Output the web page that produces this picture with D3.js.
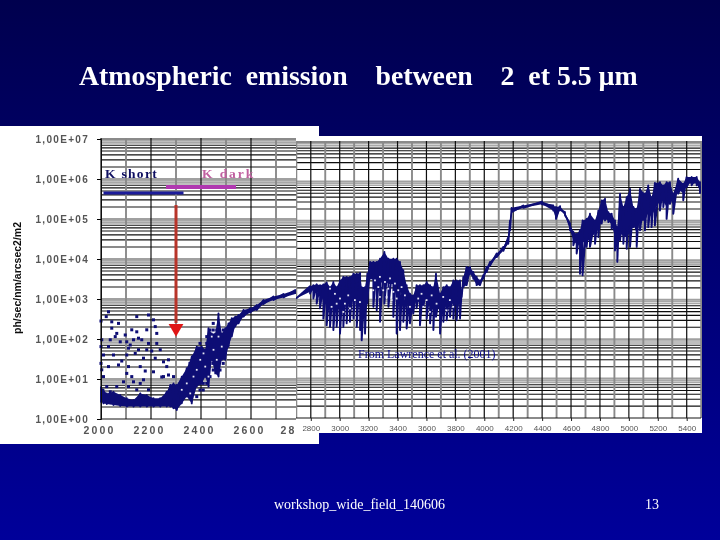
<!DOCTYPE html>
<html><head><meta charset="utf-8">
<style>html,body{margin:0;padding:0;background:#000070}svg{display:block}text{white-space:pre}</style>
<script src="https://cdn.jsdelivr.net/npm/d3@7/dist/d3.min.js"></script></head>
<body><svg id="c" width="720" height="540"></svg>
<script>
const titleText = "Atmospheric  emission    between    2  et 5.5 µm";
const footerText = "workshop_wide_field_140606";
const pageNumber = "13";
const creditText = "From Lawrence et al. (2001)";
const yAxisTitle = "ph/sec/nm/arcsec2/m2";
const yTickValues = [1,1e1,1e2,1e3,1e4,1e5,1e6,1e7];
const yTickLabels = ["1,00E+00","1,00E+01","1,00E+02","1,00E+03","1,00E+04","1,00E+05","1,00E+06","1,00E+07"];
const leftTicks = [2000,2200,2400,2600,2800];
const leftTickLabels = ["2000","2200","2400","2600","28"];
const rightTicks = [2800,3000,3200,3400,3600,3800,4000,4200,4400,4600,4800,5000,5200,5400];
const kShortBand = [2010,2330];
const kDarkBand = [2260,2540];

// short-wavelength part: wavelength (nm), upper and lower envelope in log10(flux)
const leftWave = [2000,2010,2023,2050,2077,2103,2130,2157,2183,2210,2237,2263,2277,2290,2303,2323,2343,2363,2383,2403,2417,2430,2443,2457,2470,2483,2497,2510,2523,2537,2550,2570,2597,2623,2650,2690,2730,2777];
const leftHi = [0.81,0.73,0.64,0.68,0.60,0.52,0.475,0.64,0.60,0.52,0.52,0.68,0.85,0.89,0.85,1.06,1.27,1.56,1.81,1.81,1.73,2.27,2.14,2.14,2.64,2.14,2.27,2.39,2.52,2.56,2.60,2.725,2.77,2.85,2.975,3.06,3.125,3.225];
const leftLo = [0.43,0.39,0.375,0.35,0.325,0.31,0.31,0.31,0.31,0.31,0.31,0.31,0.31,0.27,0.225,0.39,0.56,0.39,0.81,0.89,1.06,0.81,1.48,1.14,1.06,1.48,1.48,1.81,2.06,2.31,2.39,2.56,2.66,2.725,2.875,2.975,3.04,3.125];
// isolated dots above the floor of the short-wavelength part
const dotWave = [2030,2021,2000,2043,2070,2143,2190,2210,2217,2043,2063,2123,2143,2097,2183,2223,2003,2037,2057,2077,2103,2130,2163,2190,2223,2000,2030,2110,2150,2183,2237,2010,2050,2103,2137,2170,2217,2250,2270,2000,2030,2070,2110,2157,2210,2263,2003,2103,2123,2170,2270,2290,2010,2090,2130,2157,2250,2023,2063,2110,2143,2190,2037,2117,2150,2203,2243,2083,2177];
const dotLog = [2.68,2.56,2.45,2.43,2.39,2.56,2.60,2.48,2.31,2.27,2.14,2.23,2.18,2.10,2.23,2.14,1.98,1.98,2.06,1.93,1.93,1.98,1.98,1.89,1.89,1.81,1.81,1.77,1.73,1.73,1.73,1.60,1.60,1.60,1.64,1.52,1.52,1.43,1.48,1.39,1.31,1.35,1.31,1.31,1.18,1.31,1.23,1.14,1.06,0.98,1.10,1.06,1.06,0.93,0.93,0.89,1.06,0.81,0.81,0.81,0.73,0.73,0.68,1.85,2.02,1.70,1.05,1.45,1.20];
// dots of the scattered rise between 2340 and 2490 nm
const riseWave = [2343,2343,2356,2356,2356,2356,2369,2369,2369,2369,2369,2369,2383,2383,2383,2383,2383,2383,2383,2396,2396,2396,2396,2396,2396,2396,2396,2409,2409,2409,2409,2409,2409,2409,2423,2423,2423,2423,2423,2423,2423,2423,2436,2436,2436,2436,2436,2436,2436,2449,2449,2449,2449,2449,2449,2449,2449,2463,2463,2463,2463,2463,2463,2476,2476,2476,2476,2476,2489,2489,2489,2489,2489,2489];
const riseLog = [1.06,0.89,1.39,1.225,1.06,0.89,1.56,1.39,1.225,1.06,0.89,0.725,1.725,1.56,1.39,1.225,1.06,0.89,0.56,1.89,1.725,1.56,1.39,1.225,1.06,0.89,0.725,1.725,1.56,1.39,1.225,1.06,0.89,0.725,2.06,1.89,1.725,1.56,1.39,1.225,1.06,0.89,2.225,2.06,1.89,1.725,1.56,1.39,1.06,2.39,2.225,2.06,1.89,1.725,1.56,1.39,1.225,2.225,2.06,1.89,1.725,1.56,1.39,2.06,1.89,1.725,1.56,1.225,2.225,2.06,1.89,1.725,1.56,1.39];
// gaps in the dense part of the short-wavelength rise
const leftGapWave = [2343,2370,2397,2383,2417,2450,2463,2483,2430,2410,2443,2470,2357,2323];
const leftGapLog = [0.89,1.06,1.48,1.23,1.31,1.73,1.48,1.81,1.06,1.64,2.06,2.06,0.64,0.73];

// long-wavelength part
const rightWave = [2698,2795,2818,2841,2864,2887,2910,2933,2956,2979,3002,3025,3048,3071,3095,3118,3141,3152,3175,3191,3210,3233,3256,3279,3309,3337,3371,3394,3417,3440,3463,3486,3509,3532,3555,3579,3602,3625,3648,3666,3694,3717,3740,3763,3786,3809,3832,3844,3855,3878,3901,3924,3947,3970,3993,4016,4040,4086,4132,4166,4178,4189,4270,4399,4477,4496,4524,4558,4593,4616,4639,4662,4680,4708,4731,4766,4789,4812,4835,4858,4881,4904,4920,4939,4962,4985,5008,5031,5054,5077,5111,5134,5157,5180,5215,5238,5261,5284,5307,5341,5376,5399,5434,5469,5492];
const rightHi = [3.03,3.34,3.37,3.39,3.37,3.39,3.44,3.32,3.45,3.32,3.49,3.58,3.58,3.58,3.66,3.66,3.68,3.32,3.32,3.66,3.96,3.96,3.96,4.04,4.21,4.04,4.04,4.04,3.96,3.75,3.37,3.155,3.11,3.37,3.37,3.37,3.45,3.37,3.32,3.66,3.155,3.32,3.37,3.32,3.49,3.49,3.49,3.24,3.58,3.83,3.83,3.70,3.58,3.49,3.62,3.83,3.96,4.17,4.34,4.59,5.01,5.33,5.39,5.49,5.39,5.35,5.37,5.22,4.93,4.72,4.67,4.76,5.01,5.05,5.18,5.01,5.26,5.52,5.56,5.22,5.18,5.01,4.84,5.69,5.35,5.60,5.81,5.35,5.31,5.81,5.69,5.90,5.60,5.96,5.98,5.90,5.98,5.98,5.69,6.07,5.94,6.11,6.11,6.11,5.98];
const rightLo = [3.03,3.155,3.03,2.90,2.78,2.52,2.35,2.31,2.23,2.31,2.14,2.31,2.40,2.44,2.52,2.31,2.23,1.97,2.14,2.90,3.53,2.82,2.73,2.44,2.90,2.82,2.565,2.14,2.23,2.44,2.27,2.40,2.65,2.78,2.35,2.82,2.52,2.40,2.23,2.565,2.14,2.44,2.48,2.565,2.52,2.48,2.52,3.07,3.32,3.37,3.66,3.53,3.37,3.37,3.53,3.70,3.87,4.08,4.24,4.42,4.76,5.22,5.33,5.42,5.26,5.05,5.28,5.14,4.76,4.38,4.17,3.66,3.62,4.34,4.34,4.42,4.59,4.93,5.01,4.97,4.80,4.25,3.96,4.505,4.42,4.29,4.34,4.84,4.34,4.76,4.76,4.84,4.84,4.885,5.26,5.35,5.05,5.43,5.18,5.69,5.52,5.86,5.90,5.90,5.69];
// lower edge of the solid core of the band
const rightCore = [3.03,3.2,3.25,3.2,3.1,3.0,2.9,2.8,2.85,2.85,2.8,2.9,3.0,3.1,3.1,2.9,2.8,2.7,2.6,3.0,3.53,3.5,3.4,3.4,3.5,3.4,3.4,3.4,3.2,3.1,2.9,2.7,2.8,3.0,2.9,3.0,3.0,2.9,2.8,2.9,2.7,2.9,2.9,2.9,2.9,2.85,2.9,3.07,3.32,3.37,3.66,3.53,3.37,3.37,3.53,3.70,3.87,4.08,4.24,4.42,4.76,5.22,5.33,5.42,5.26,5.05,5.28,5.14,4.76,4.5,4.4,4.4,4.45,4.5,4.5,4.7,4.8,5.0,5.05,5.0,4.9,4.6,4.4,4.7,4.6,4.6,4.7,4.9,4.7,5.0,5.0,5.2,5.1,5.3,5.5,5.5,5.35,5.6,5.4,5.8,5.7,5.95,5.95,5.95,5.75];
// gaps in the dense part of the long-wavelength band
const rightGapWave = [3244,3278,3313,3348,3382,3267,3301,3336,3371,3405,3428,3232,3324,3359,3394,3278,3451,2933,2967,3002,3036,3071,3105,3059,2979,3025,2944,3140,3566,3601,3636,3670,3716,3762,3578,3624,3739,3785,3543,3486];
const rightGapLog = [3.49,3.58,3.45,3.54,3.41,3.32,3.24,3.28,3.20,3.24,3.32,3.24,3.07,2.99,3.03,3.07,3.11,3.28,3.15,3.03,2.90,2.78,2.99,3.11,2.90,2.69,2.82,2.94,3.15,2.99,3.11,2.90,3.07,2.99,2.82,2.69,2.73,2.82,3.03,2.82];

const svg = d3.select("#c");
const defs = svg.append("defs");
const grad = defs.append("linearGradient").attr("id","bg").attr("x1",0).attr("x2",0).attr("y1",0).attr("y2",1);
grad.append("stop").attr("offset",0).attr("stop-color","#00004e");
grad.append("stop").attr("offset",1).attr("stop-color","#00009a");
defs.append("filter").attr("id","soft").append("feGaussianBlur").attr("stdDeviation",0.35);
defs.append("clipPath").attr("id","clipL").append("rect").attr("x",0).attr("y",126).attr("width",296).attr("height",318);
defs.append("clipPath").attr("id","clipR").append("rect").attr("x",296).attr("y",136).attr("width",406).attr("height",297);

svg.append("rect").attr("width",720).attr("height",540).attr("fill","url(#bg)");
svg.append("rect").attr("x",0).attr("y",126).attr("width",319).attr("height",318).attr("fill","#fff");

const navy = "#0c0c74";
const xL = d3.scaleLinear().domain([2000,2800]).range([101,301]);
const yL = d3.scaleLog().domain([1,1e7]).range([419,139]);
const xR = d3.scaleLinear().domain([3000,5400]).range([339.7,686.7]);
const yR = d3.scaleLog().domain([1,1e7]).range([418,142]);
const decades = [0,1,2,3,4,5,6];
const minors = [2,3,4,5,6,7,8,9];

function grid(g, x, y, x0, x1, waves){
  decades.forEach(d=>{
    minors.forEach(m=>{
      const v = m*10**d;
      g.append("line").attr("x1",x0).attr("x2",x1).attr("y1",y(v)).attr("y2",y(v))
        .attr("stroke", m>=8 ? "#a8a8a8" : "#101010").attr("stroke-width", m>=8 ? 1.6 : 1.1);
    });
    const v = 10**(d+1);
    g.append("line").attr("x1",x0).attr("x2",x1).attr("y1",y(v)).attr("y2",y(v))
      .attr("stroke", d===6 ? "#111" : "#a0a0a0").attr("stroke-width", d===6 ? 1.2 : 2);
  });
  waves.forEach(w=>{
    const odd = (w/100)%2===1;
    g.append("line").attr("x1",x(w)).attr("x2",x(w)).attr("y1",y(1e7)-1).attr("y2",y(1))
      .attr("stroke", odd ? "#8a8a8a" : "#111").attr("stroke-width", odd ? 1.9 : 1.2);
  });
  g.append("line").attr("x1",x0).attr("x2",x1).attr("y1",y(1)).attr("y2",y(1)).attr("stroke","#111").attr("stroke-width",1.1);
}
function spectrum(g, x, y, waves, hi, lo, core, gapWave, gapLog){
  g.append("path")
    .attr("d",d3.area().x(d=>x(d)).y0((d,i)=>y(10**core[i])).y1((d,i)=>y(10**hi[i]))(waves))
    .attr("fill",navy);
  const zig = waves.flatMap((w,i)=>[[w,hi[i]],[w,lo[i]]]);
  g.append("path").attr("d",d3.line().x(d=>x(d[0])).y(d=>y(10**d[1]))(zig))
    .attr("fill","none").attr("stroke",navy).attr("stroke-width",1.9).attr("stroke-linejoin","round");
  g.selectAll(null).data(gapWave).join("rect")
    .attr("x",d=>x(d)-0.9).attr("y",(d,i)=>y(10**gapLog[i])-0.9).attr("width",1.8).attr("height",1.8).attr("fill","#e8e8f4");
}
function dots(g, x, y, waves, logs){
  g.selectAll(null).data(waves).join("rect")
    .attr("x",d=>x(d)-1.5).attr("y",(d,i)=>y(10**logs[i])-1.5).attr("width",3).attr("height",3).attr("fill",navy);
}

/* left panel */
const gl = svg.append("g").attr("filter","url(#soft)");
const glc = gl.append("g").attr("clip-path","url(#clipL)");
grid(glc, xL, yL, 101, 296, d3.range(2000,2800,100));
const ax = gl.append("g").attr("transform","translate(101,0)")
  .call(d3.axisLeft(yL).tickValues(yTickValues).tickSize(4).tickFormat((d,i)=>yTickLabels[i]));
ax.select(".domain").attr("stroke","#111");
ax.selectAll("text").attr("font-family","Liberation Sans").attr("font-size",10).attr("font-weight","bold")
  .attr("fill","#555").attr("letter-spacing",1.3).attr("x",-12);
const axb = gl.append("g").attr("transform","translate(0,419)")
  .call(d3.axisBottom(xL).tickValues(leftTicks).tickSize(0).tickFormat((d,i)=>leftTickLabels[i]));
axb.select(".domain").remove();
axb.selectAll("text").attr("font-family","Liberation Sans").attr("font-size",10.5).attr("font-weight","bold")
  .attr("fill","#555").attr("letter-spacing",2.2).attr("y",8).attr("x",-2);
axb.selectAll("text").filter(d=>d===2800).attr("text-anchor","end").attr("x",-5);
dots(glc, xL, yL, riseWave, riseLog);
spectrum(glc, xL, yL, leftWave, leftHi, leftLo, leftLo, leftGapWave, leftGapLog);
dots(glc, xL, yL, dotWave, dotLog);
gl.append("text").attr("transform","translate(21,278) rotate(-90)").attr("text-anchor","middle")
  .attr("font-family","Liberation Sans").attr("font-weight","bold").attr("font-size",10.5).attr("fill","#111").text(yAxisTitle);

/* right panel */
svg.append("rect").attr("x",296).attr("y",136).attr("width",406).attr("height",297).attr("fill","#fff");
const gr = svg.append("g").attr("filter","url(#soft)");
const grc = gr.append("g").attr("clip-path","url(#clipR)");
grid(grc, xR, yR, 296, 701, d3.range(2700,5600,100));
const axr = gr.append("g").attr("transform","translate(0,418)")
  .call(d3.axisBottom(xR).tickValues(rightTicks).tickSize(3).tickFormat(d3.format("d")));
axr.select(".domain").remove();
axr.selectAll("line").attr("stroke","#222");
axr.selectAll("text").attr("font-family","Liberation Sans").attr("font-size",8).attr("fill","#555").attr("y",7);
spectrum(grc, xR, yR, rightWave, rightHi, rightLo, rightCore, rightGapWave, rightGapLog);
gr.append("text").attr("x",358).attr("y",358).attr("font-family","Liberation Serif").attr("font-size",12).attr("fill","#101090").text(creditText);

/* left-panel overlays */
const gk = svg.append("g").attr("filter","url(#soft)");
gk.append("text").attr("x",105).attr("y",178).attr("font-family","Liberation Serif").attr("font-weight","bold")
  .attr("font-size",13.5).attr("letter-spacing",1.3).attr("fill","#0c0c60").text("K short");
gk.append("text").attr("x",202).attr("y",178).attr("font-family","Liberation Serif").attr("font-weight","bold")
  .attr("font-size",13.5).attr("letter-spacing",1.9).attr("fill","#c060a0").text("K dark");
gk.append("line").attr("x1",xL(kShortBand[0])).attr("x2",xL(kShortBand[1])).attr("y1",yL(10**5.65)).attr("y2",yL(10**5.65)).attr("stroke","#1c1c9a").attr("stroke-width",3);
gk.append("line").attr("x1",xL(kDarkBand[0])).attr("x2",xL(kDarkBand[1])).attr("y1",yL(10**5.8)).attr("y2",yL(10**5.8)).attr("stroke","#b038b0").attr("stroke-width",4);
gk.append("line").attr("x1",xL(2300)).attr("x2",xL(2300)).attr("y1",yL(10**5.35)).attr("y2",yL(10**2.4)).attr("stroke","#b8342c").attr("stroke-width",3);
gk.append("path").attr("d",d3.symbol(d3.symbolTriangle,95)()).attr("fill","#e01818")
  .attr("transform",`translate(${xL(2300)},${yL(10**2.27)}) rotate(180)`);

/* slide text */
svg.append("text").attr("x",79).attr("y",85).attr("font-family","Liberation Serif").attr("font-weight","bold").attr("font-size",27.8).attr("fill","#fff").text(titleText);
svg.append("text").attr("x",274).attr("y",509).attr("font-family","Liberation Serif").attr("font-size",14).attr("fill","#fff").text(footerText);
svg.append("text").attr("x",645).attr("y",509).attr("font-family","Liberation Serif").attr("font-size",14).attr("fill","#fff").text(pageNumber);
</script></body></html>
